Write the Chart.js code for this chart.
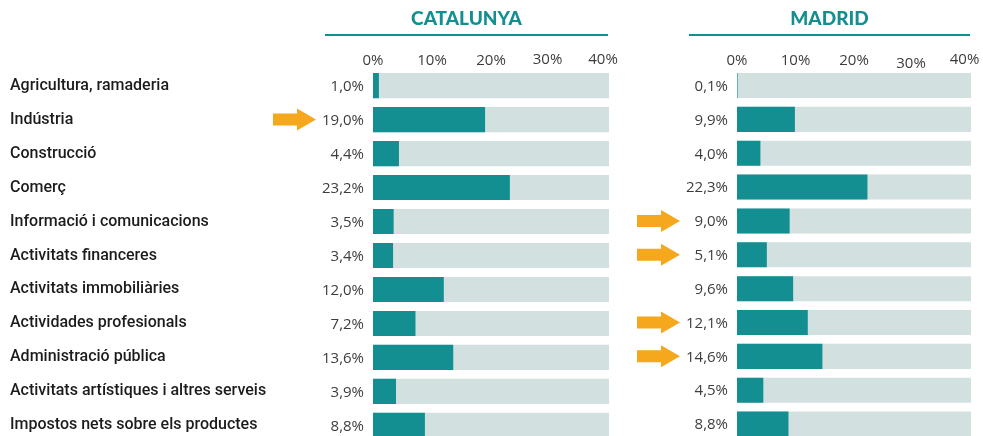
<!DOCTYPE html>
<html lang="ca">
<head>
<meta charset="utf-8">
<title>Pes dels sectors: Catalunya i Madrid</title>
<script src="https://cdn.jsdelivr.net/npm/chart.js@4.4.1/dist/chart.umd.min.js"></script>
<style>
  html, body { margin: 0; padding: 0; background: #fff; overflow: hidden; }
  #wrap { position: relative; width: 983px; height: 436px; overflow: hidden; }
  .panel { position: absolute; top: 0; }
  #catBox { left: 0; width: 625px; height: 455px; }
  #madBox { left: 630px; width: 353px; height: 441px; }
</style>
</head>
<body>
<div id="wrap">
  <div class="panel" id="catBox"><canvas id="catChart"></canvas></div>
  <div class="panel" id="madBox"><canvas id="madChart"></canvas></div>
</div>
<script>
// Dades
const sectors = [
    'Agricultura, ramaderia',
    'Indústria',
    'Construcció',
    'Comerç',
    'Informació i comunicacions',
    'Activitats financeres',
    'Activitats immobiliàries',
    'Actividades profesionals',
    'Administració pública',
    'Activitats artístiques i altres serveis',
    'Impostos nets sobre els productes'
];
const catalunyaValues = [1.0, 19.0, 4.4, 23.2, 3.5, 3.4, 12.0, 7.2, 13.6, 3.9, 8.8];
const madridValues = [0.1, 9.9, 4.0, 22.3, 9.0, 5.1, 9.6, 12.1, 14.6, 4.5, 8.8];
const catalunyaArrows = [1];
const madridArrows = [4, 5, 7, 8];
const axisMin = 0;
const axisMax = 40;
const axisStep = 10;

const TEAL = '#138f91';
const TRACK = '#d3e0e0';
const ORANGE = '#f5a71d';
const TEXT = '#1c1c1c';
const NUM_TEXT = '#3d3d3d';

function formatPct(v) {
    return v.toFixed(1).replace('.', ',') + '%';
}

// Titol amb linia a sobre de cada panell
const panelTitle = {
    id: 'panelTitle',
    afterDraw(chart, args, opts) {
        const ctx = chart.ctx;
        const area = chart.chartArea;
        const x1 = area.left - 48;
        const x2 = area.right - 1;
        ctx.save();
        ctx.strokeStyle = TEAL;
        ctx.lineWidth = 2;
        ctx.beginPath();
        ctx.moveTo(x1, 35);
        ctx.lineTo(x2, 35);
        ctx.stroke();
        ctx.fillStyle = TEAL;
        ctx.font = '900 19px Lato';
        ctx.textAlign = 'center';
        ctx.textBaseline = 'middle';
        ctx.fillText(opts.text, (x1 + x2) / 2, 19);
        ctx.restore();
    }
};

// Percentatges a l'esquerra de cada barra + fletxes
const valueLabels = {
    id: 'valueLabels',
    afterDatasetsDraw(chart, args, opts) {
        const ctx = chart.ctx;
        const yScale = chart.scales.y;
        const left = chart.chartArea.left;
        const values = chart.data.datasets[0].data;
        ctx.save();
        ctx.font = '15px "Open Sans"';
        ctx.fillStyle = NUM_TEXT;
        ctx.textAlign = 'right';
        ctx.textBaseline = 'middle';
        values.forEach((v, i) => {
            ctx.fillText(formatPct(v), left - 9, yScale.getPixelForValue(i) + 1);
        });
        // fletxes taronja
        ctx.fillStyle = ORANGE;
        (opts.arrows || []).forEach(i => {
            const y = yScale.getPixelForValue(i);
            const tip = left - 57;
            const tail = left - 100;
            const head = tip - 19;
            ctx.beginPath();
            ctx.moveTo(tail, y - 6);
            ctx.lineTo(head, y - 6);
            ctx.lineTo(head, y - 11);
            ctx.lineTo(tip, y);
            ctx.lineTo(head, y + 11);
            ctx.lineTo(head, y + 6);
            ctx.lineTo(tail, y + 6);
            ctx.closePath();
            ctx.fill();
        });
        ctx.restore();
    }
};

// Alguns rotols de l'eix estan desplaçats a l'original
const nudgedTicks = {
    id: 'nudgedTicks',
    afterDraw(chart, args, opts) {
        const ctx = chart.ctx;
        const xScale = chart.scales.x;
        const shifts = opts.shifts || {};
        ctx.save();
        ctx.font = '15px "Open Sans"';
        ctx.fillStyle = NUM_TEXT;
        ctx.textAlign = 'center';
        ctx.textBaseline = 'middle';
        Object.keys(shifts).forEach(k => {
            const v = Number(k);
            const d = shifts[k];
            ctx.fillText(v + '%', xScale.getPixelForValue(v) + d[0], opts.y + d[1]);
        });
        ctx.restore();
    }
};

function createPanel(elementId, values, title, arrows, shifts, showNames, padLeft, padRight) {
    const ctx = document.getElementById(elementId).getContext('2d');
    return new Chart(ctx, {
        type: 'bar',
        data: {
            labels: sectors,
            datasets: [
                {
                    label: title,
                    data: values,
                    backgroundColor: TEAL,
                    borderWidth: 0,
                    grouped: false,
                    categoryPercentage: 1,
                    barPercentage: 0.74
                },
                {
                    label: 'fons',
                    data: sectors.map(() => axisMax),
                    backgroundColor: TRACK,
                    borderWidth: 0,
                    grouped: false,
                    categoryPercentage: 1,
                    barPercentage: 0.74
                }
            ]
        },
        options: {
            indexAxis: 'y',
            responsive: true,
            maintainAspectRatio: false,
            animation: false,
            layout: {
                padding: { left: padLeft, right: padRight, top: 0, bottom: 0 }
            },
            plugins: {
                legend: { display: false },
                tooltip: { enabled: false },
                panelTitle: { text: title },
                valueLabels: { arrows: arrows },
                nudgedTicks: { shifts: shifts, y: 59.5 }
            },
            scales: {
                x: {
                    position: 'top',
                    min: axisMin,
                    max: axisMax,
                    grid: { display: false, drawTicks: false },
                    border: { display: false },
                    ticks: {
                        stepSize: axisStep,
                        padding: -1,
                        color: NUM_TEXT,
                        font: { family: 'Open Sans', size: 15 },
                        callback: function(value) {
                            if (shifts[value]) {
                                return '';
                            }
                            return value + '%';
                        }
                    },
                    afterFit: function(scale) {
                        scale.height = 68.6;
                    }
                },
                y: {
                    type: 'category',
                    display: showNames,
                    grid: { display: false, drawTicks: false },
                    border: { display: false },
                    ticks: {
                        crossAlign: 'far',
                        color: TEXT,
                        font: { family: 'Roboto', size: 16, weight: '500' }
                    },
                    afterFit: function(scale) {
                        // amplada fixa per als noms dels sectors
                        scale.width = showNames ? 363 : 0;
                    }
                }
            }
        },
        plugins: [panelTitle, valueLabels, nudgedTicks]
    });
}

createPanel('catChart', catalunyaValues, 'CATALUNYA', catalunyaArrows,
    { 30: [-2.5, 0], 40: [-6, 0] }, true, 10, 16);
createPanel('madChart', madridValues, 'MADRID', madridArrows,
    { 30: [-1.5, 4], 40: [-6.5, 0] }, false, 107, 12);
</script>
</body>
</html>
